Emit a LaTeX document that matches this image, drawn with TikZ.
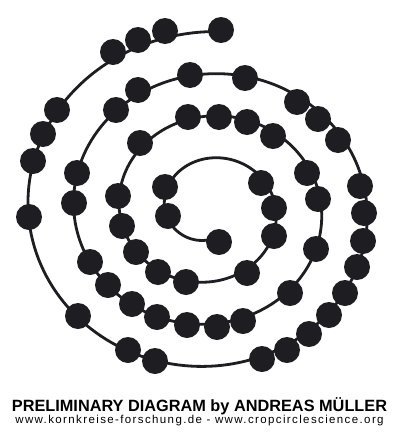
\documentclass[tikz,border=0pt]{standalone}
\usepackage{fontspec}
\setmainfont{Liberation Sans}
\newfontfamily\urlfont[LetterSpace=12]{Liberation Sans}
\definecolor{ink}{RGB}{30,29,34}
\begin{document}
\begin{tikzpicture}[x=1pt,y=-1pt,
  spiralline/.style={draw=ink,line width=2.8pt},
  dot/.style={circle,fill=ink,inner sep=0pt,minimum size=26pt},
  titletext/.style={anchor=base,inner sep=0pt,text=black,font=\fontsize{16.3}{18}\selectfont\bfseries},
  urltext/.style={anchor=base,inner sep=0pt,text=black,font=\urlfont\fontsize{11.5}{13}\selectfont}]
\fill[white] (0,0) rectangle (400,432);
\useasboundingbox (0,0) rectangle (400,432);
\draw[spiralline] plot[domain=286:-993.5,samples=600,variable=\t]
  ({209+(44.1+0.12667*(180-\t))*cos(\t)},{209.5-0.925*(44.1+0.12667*(180-\t))*sin(\t)});
\foreach \p [count=\i] in {(221,30),(165,31),(138,40),(113,52),(57,110),(43,134),(33,161),(29,217),
  (78,316),(128,350),(155,361),(262,359),(287,350),(309,334),(329,315),(345,293),(357,267),(363,241),
  (364,213),(360,186),(338,140),(318,119),(297,102),(245,78),(190,75),(138,90),(116,110),(77,173),
  (74,203),(90,262),(108,285),(132,304),(157,317),(187,325),(217,327),(243,321),(290,293),(316,249),
  (318,199),(307,173),(273,136),(247,122),(219,117),(188,117),(140,143),(118,196),(122,226),(136,252),
  (158,272),(186,282),(247,273),(274,236),(274,208),(261,183),(165,187),(168,216),(219,242)}
  \node[dot] (d\i) at \p {};
\node[titletext] (title) at (199.5,411) {PRELIMINARY DIAGRAM by ANDREAS MÜLLER};
\node[urltext] (urls) at (199.5,423.5) {www.kornkreise-forschung.de - www.cropcirclescience.org};
\end{tikzpicture}
\end{document}
